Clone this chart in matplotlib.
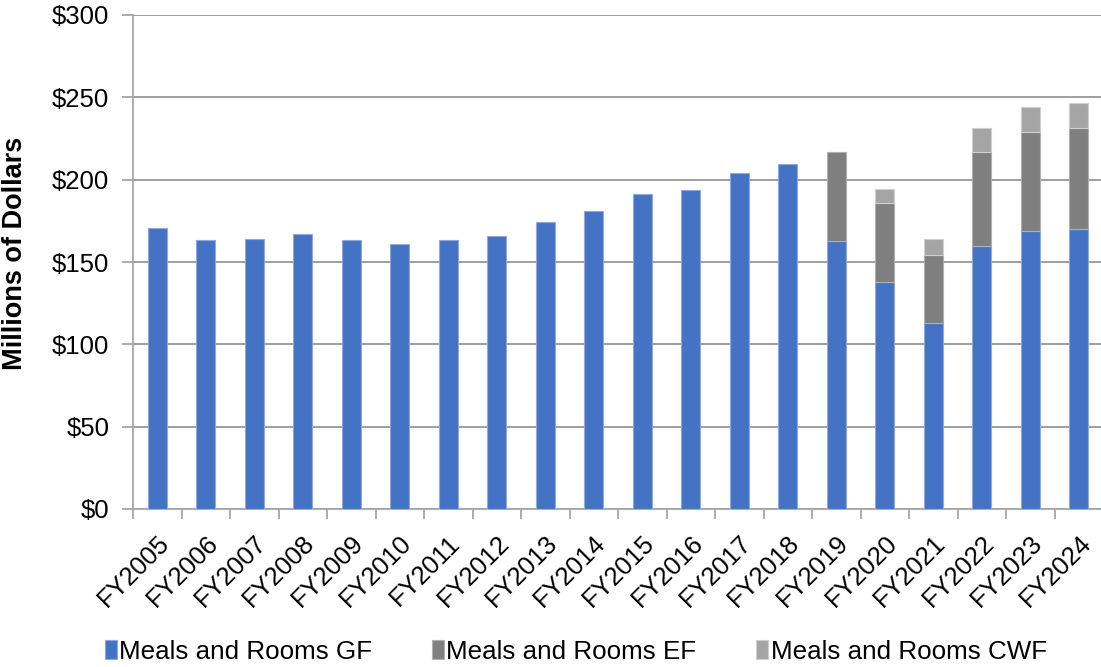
import numpy as np
import matplotlib.pyplot as plt
import matplotlib.transforms as mtransforms
from matplotlib.ticker import FuncFormatter, FixedLocator

plt.rcParams['font.family'] = ['Liberation Sans', 'DejaVu Sans']

# Meals and Rooms tax revenue by fund, millions of dollars
years = ['FY2005', 'FY2006', 'FY2007', 'FY2008', 'FY2009', 'FY2010', 'FY2011',
         'FY2012', 'FY2013', 'FY2014', 'FY2015', 'FY2016', 'FY2017', 'FY2018',
         'FY2019', 'FY2020', 'FY2021', 'FY2022', 'FY2023', 'FY2024']
gf = [170.6, 163.6, 164.0, 167.2, 163.2, 161.1, 163.2, 165.8, 174.1, 181.2,
      191.1, 193.5, 204.2, 209.5, 163.0, 137.9, 113.2, 159.5, 168.6, 170.2]
ef = [0, 0, 0, 0, 0, 0, 0, 0, 0, 0, 0, 0, 0, 0,
      54.0, 48.1, 40.9, 57.5, 60.5, 61.4]
cwf = [0, 0, 0, 0, 0, 0, 0, 0, 0, 0, 0, 0, 0, 0,
       0, 8.2, 9.7, 14.2, 14.8, 15.0]

gf = np.array(gf)
ef = np.array(ef)
cwf = np.array(cwf)
x = np.arange(len(years))

fig = plt.figure(figsize=(11.01, 6.67), dpi=100)
ax = fig.add_axes([133 / 1101, 1 - 509 / 667, 970 / 1101, 494 / 667])

width = 0.4
ax.bar(x, gf, width, color='#4472C4', edgecolor='#8fa9dc', linewidth=0.8,
       label='Meals and Rooms GF', zorder=3)
m = ef > 0
ax.bar(x[m], ef[m], width, bottom=gf[m], color='#7F7F7F', edgecolor='#b0b0b0',
       linewidth=0.8, label='Meals and Rooms EF', zorder=3)
m = cwf > 0
ax.bar(x[m], cwf[m], width, bottom=(gf + ef)[m], color='#A5A5A5',
       edgecolor='#cfcfcf', linewidth=0.8, label='Meals and Rooms CWF', zorder=3)

ax.set_xlim(-0.5, len(years) - 0.5)
ax.set_ylim(0, 300)
ax.set_yticks(np.arange(0, 301, 50))
ax.yaxis.set_major_formatter(FuncFormatter(lambda v, p: '${:,.0f}'.format(v)))
ax.grid(axis='y', color='#969696', linewidth=1.3, zorder=0)

ax.set_xticks(x)
ax.set_xticklabels(years, rotation=45, ha='right', rotation_mode='anchor',
                   fontsize=18.5)
# nudge the slanted year labels a little to the right
shift = mtransforms.ScaledTranslation(4 / 100, 0, fig.dpi_scale_trans)
for lbl in ax.get_xticklabels():
    lbl.set_transform(lbl.get_transform() + shift)
ax.xaxis.set_minor_locator(FixedLocator(np.arange(-0.5, len(years), 1)))
ax.tick_params(axis='x', which='major', length=0, pad=16)
ax.tick_params(axis='x', which='minor', length=7, color='#a6a6a6', width=1.3)
ax.tick_params(axis='y', length=8, color='#a6a6a6', width=1.3, labelsize=18.5, pad=9)

for side in ['top', 'right']:
    ax.spines[side].set_visible(False)
for side in ['left', 'bottom']:
    ax.spines[side].set_color('#a6a6a6')
    ax.spines[side].set_linewidth(1.3)

ax.set_ylabel('Millions of Dollars', fontsize=19.5, fontweight='bold')
ax.yaxis.set_label_coords(-0.108, 0.518)

fig.legend(loc='lower center', bbox_to_anchor=(0.523, -0.03), ncol=3,
           frameon=False, fontsize=18.7, handlelength=0.45, handleheight=0.7,
           handletextpad=0.1, columnspacing=2.3)

fig.savefig('out.png', dpi=100)
